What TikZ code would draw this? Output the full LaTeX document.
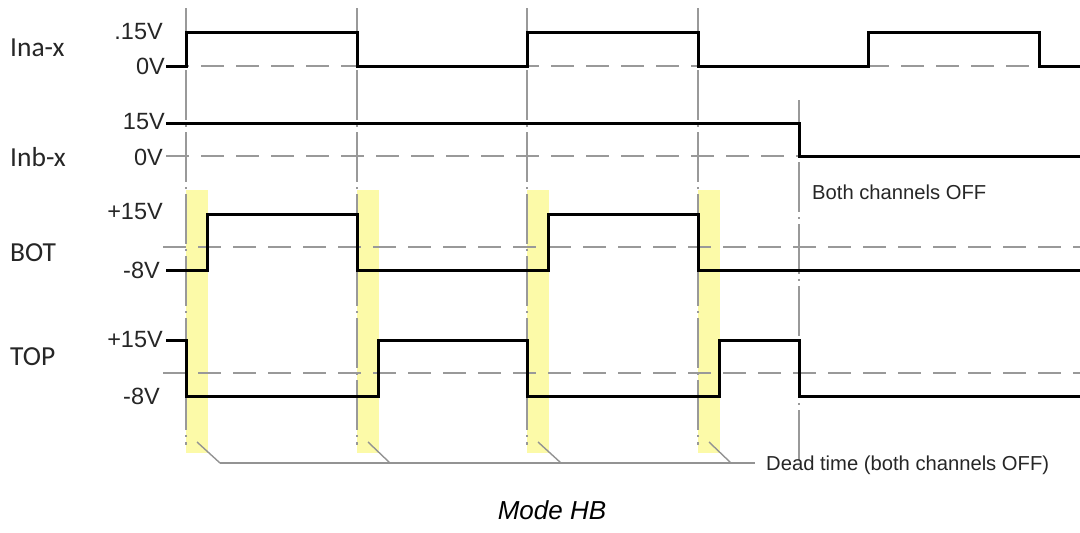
\documentclass[tikz,border=0pt]{standalone}
\usepackage{fontspec}
\setmainfont{Liberation Sans}
\newfontfamily\calib{Carlito}
\begin{document}
\begin{tikzpicture}[x=1pt,y=-1pt,
  sig/.style={line width=3pt,black,line join=miter},
  ref/.style={line width=1.4pt,gray!80,dash pattern=on 23pt off 12pt},
  vmark/.style={line width=1.4pt,gray!80,dash pattern=on 50pt off 5pt on 2pt off 5pt},
  lead/.style={line width=1.4pt,gray!85},
  dead/.style={fill={rgb,255:red,252;green,250;blue,168},draw=none},
  chan/.style={font=\calib\fontsize{27.5}{31}\selectfont,text=black!85,anchor=west,inner sep=0pt},
  volt/.style={font=\fontsize{23.5}{26}\selectfont,text=black!85,anchor=east,inner sep=0pt},
  note/.style={font=\fontsize{20.2}{24}\selectfont,text=black!85,anchor=west,inner sep=0pt}]
\useasboundingbox (0,0) rectangle (1080,533);
% dead time bands
\foreach \x in {186,357,527,698}{
  \fill[dead] (\x,190) rectangle (\x+22,453);
}
% reference dashed lines
\draw[ref] (166,66) -- (1080,66);
\draw[ref] (166,156) -- (1080,156);
\draw[ref] (163,247) -- (1080,247);
\draw[ref] (163,373) -- (1080,373);
% vertical markers
\foreach \x in {186,357,527,698}{
  \draw[vmark] (\x,8) -- (\x,445);
}
\draw[vmark] (799,100) -- (799,465);
% leader lines
\coordinate (L0) at (220,463);
\coordinate (L1) at (755,463);
\draw[lead] (L0) -- (L1);
\draw[lead] (197,442) -- (220,463);
\draw[lead] (368,442) -- (390,463);
\draw[lead] (538,442) -- (561,463);
\draw[lead] (709,442) -- (731,463);
% signals
\draw[sig] (166,66) -- (186,66) -- (186,32) -- (357,32) -- (357,66) -- (527,66) -- (527,32) -- (698,32) -- (698,66) -- (868,66) -- (868,32) -- (1039,32) -- (1039,66) -- (1080,66);
\draw[sig] (166,123) -- (799,123) -- (799,156) -- (1080,156);
\draw[sig] (166,270) -- (207,270) -- (207,214) -- (357,214) -- (357,270) -- (548,270) -- (548,214) -- (698,214) -- (698,270) -- (1080,270);
\draw[sig] (166,340) -- (186,340) -- (186,396) -- (378,396) -- (378,340) -- (527,340) -- (527,396) -- (719,396) -- (719,340) -- (799,340) -- (799,396) -- (1080,396);
% channel labels
\node[chan] (ina) at (10,48) {Ina-x};
\node[chan] (inb) at (10,157) {Inb-x};
\node[chan] (bot) at (10,253) {BOT};
\node[chan] (top) at (10,357) {TOP};
% voltage labels
\node[volt] (v1) at (163,32) {.15V};
\node[volt] (v2) at (165,66) {0V};
\node[volt] (v3) at (165,122) {15V};
\node[volt] (v4) at (163,157) {0V};
\node[volt] (v5) at (163,212) {+15V};
\node[volt] (v6) at (160,270) {-8V};
\node[volt] (v7) at (163,340) {+15V};
\node[volt] (v8) at (160,396) {-8V};
% notes
\node[note] (off) at (812,192) {Both channels OFF};
\node[note] (dt) at (766,465) {Dead time (both channels OFF)};
\node[font=\itshape\fontsize{26}{30}\selectfont,inner sep=0pt] (cap) at (552,510) {Mode HB};
\end{tikzpicture}
\end{document}
